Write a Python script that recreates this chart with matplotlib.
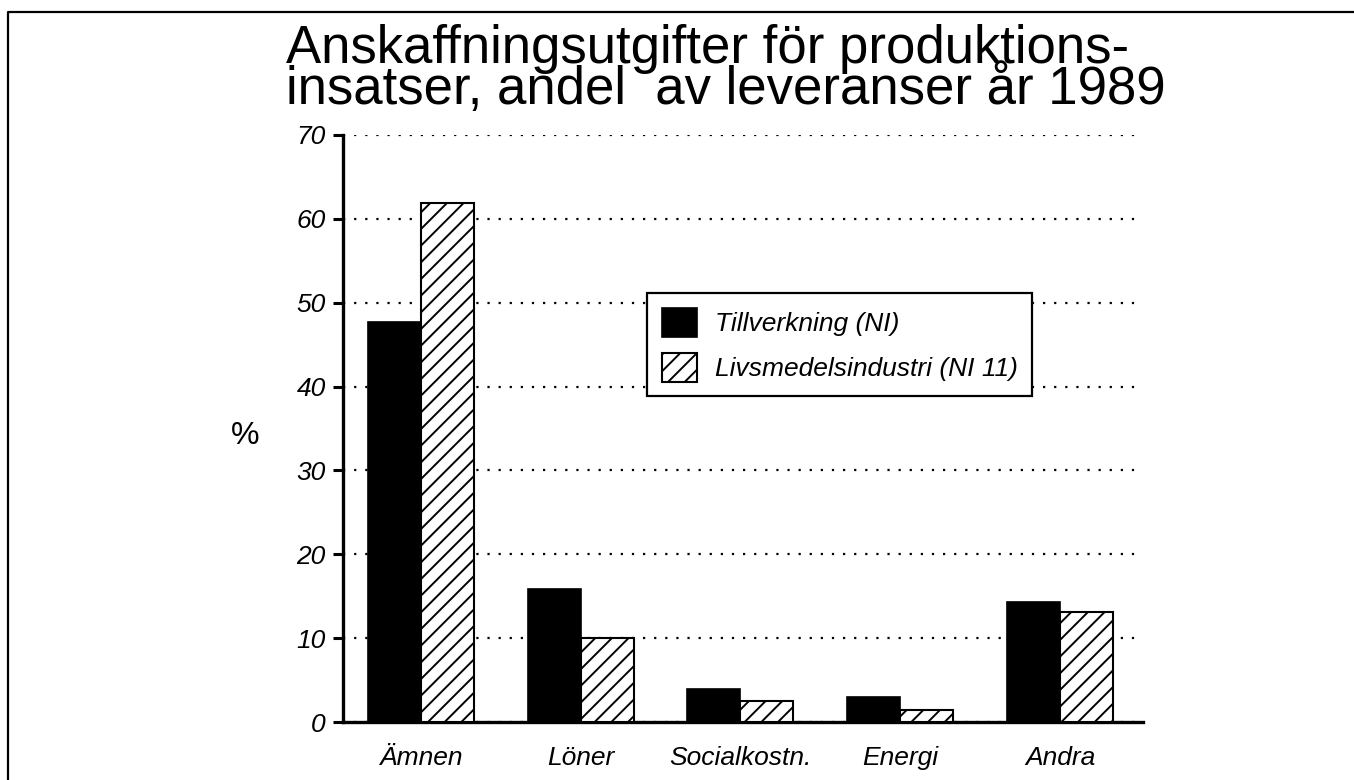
import matplotlib
matplotlib.use("Agg")
from matplotlib import pyplot as plt
from matplotlib.lines import Line2D
import numpy as np

plt.rcParams['font.family'] = ['Liberation Sans', 'DejaVu Sans']
plt.rcParams['hatch.linewidth'] = 1.4

# data
categories = ['Ämnen', 'Löner', 'Socialkostn.', 'Energi', 'Andra']
tillverkning = [47.7, 15.9, 3.9, 2.95, 14.3]
livsmedel = [61.9, 10.0, 2.45, 1.45, 13.1]
series_names = ['Tillverkning (NI)', 'Livsmedelsindustri (NI 11)']
yticks = [0, 10, 20, 30, 40, 50, 60, 70]
title = 'Anskaffningsutgifter för produktions-\ninsatser, andel  av leveranser år 1989'

W, H = 1354, 780
fig = plt.figure(figsize=(W / 100, H / 100), dpi=100)
ax = fig.add_axes([343 / W, 1 - 722 / H, 800 / W, (722 - 135) / H])

x = np.arange(len(categories))
bw = 0.332
b1 = ax.bar(x - bw / 2, tillverkning, bw, color='black', edgecolor='black',
            linewidth=1.2, zorder=3, label=series_names[0])
b2 = ax.bar(x + bw / 2, livsmedel, bw, color='white', edgecolor='black',
            hatch='//', linewidth=1.5, zorder=3, label=series_names[1])

ax.set_xlim(-0.488, 4.52)
ax.set_ylim(0, 70)
ax.set_yticks(yticks)
ax.set_xticks(x)
ax.set_xticklabels(categories, fontsize=19, style='italic')
ax.set_yticklabels([str(v) for v in yticks], fontsize=19, style='italic')
ax.tick_params(axis='y', length=7.5, width=2.2, pad=5)
ax.tick_params(axis='x', length=0, pad=17)

for s in ['top', 'right']:
    ax.spines[s].set_visible(False)
for s in ['left', 'bottom']:
    ax.spines[s].set_linewidth(2.4)

ax.yaxis.grid(True, linestyle=(0, (1, 4)), linewidth=1.6, color='black')
ax.set_axisbelow(True)

fig.text(245 / W, 1 - 436 / H, '%', fontsize=23, ha='center', va='center')

# title, two tightly packed lines (they touch in the original too)
fig.text(286 / W, 1 - 24 / H, title, fontsize=38, ha='left', va='top', linespacing=0.765)

leg = fig.legend(handles=[b1, b2], labels=series_names, loc='upper left',
                 bbox_to_anchor=(647 / W, 1 - 293 / H), prop={'size': 19, 'style': 'italic'},
                 handlelength=1.36, handleheight=1.33, handletextpad=0.65,
                 labelspacing=0.6, borderpad=0.55, borderaxespad=0,
                 fancybox=False, framealpha=1, edgecolor='black')
leg.get_frame().set_linewidth(1.6)

# page frame
fig.add_artist(Line2D([8 / W, 8 / W, 1], [0, 1 - 12 / H, 1 - 12 / H],
                      transform=fig.transFigure, color='black', linewidth=1.6))

fig.savefig('out.png', dpi=100)
